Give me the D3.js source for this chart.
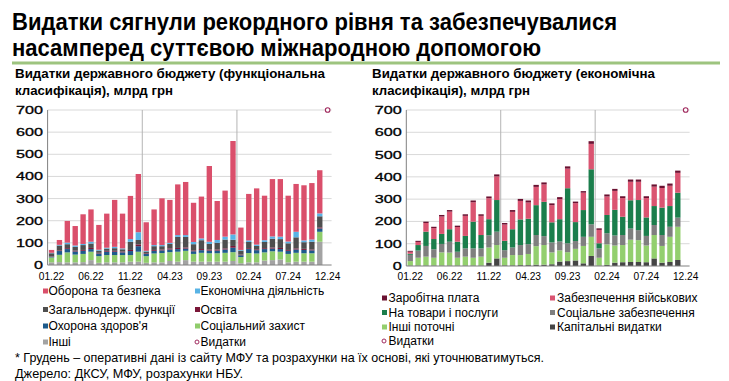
<!DOCTYPE html>
<html><head><meta charset="utf-8">
<script src="https://cdn.jsdelivr.net/npm/d3@7"></script>
<style>
body{margin:0;background:#fff;}
svg{display:block;font-family:"Liberation Sans",Arial,sans-serif;}
</style>
</head><body>
<svg id="c" width="729" height="381"></svg>
<script>
// ---------- DATA ----------
const months = ["01.22","02.22","03.22","04.22","05.22","06.22","07.22","08.22","09.22","10.22","11.22","12.22",
                "01.23","02.23","03.23","04.23","05.23","06.23","07.23","08.23","09.23","10.23","11.23","12.23",
                "01.24","02.24","03.24","04.24","05.24","06.24","07.24","08.24","09.24","10.24","11.24","12.24"];
const tickLabels = ["01.22","06.22","11.22","04.23","09.23","02.24","07.24","12.24"];
const yTicks = [0,100,200,300,400,500,600,700];
const yearStarts = ["01.23","01.24"];

// functional classification (bottom to top), bn UAH
const funcOther    = [12,13,12,12,13,22,10,12,12,12,15,15, 10,12,12,18,15,22,15,15,15,15,15,18, 8,12,12,20,22,25,12,15,15,15,105];
const funcSocial   = [22,33,45,35,37,38,30,33,33,33,30,45, 30,40,42,40,45,42,35,40,38,38,40,40, 28,42,40,37,40,35,38,40,38,38,45];
const funcHealth   = [3,17,15,14,14,12,12,15,15,12,18,25, 10,12,12,12,12,10,12,12,12,12,15,20, 8,18,15,15,12,12,14,15,15,13,15];
const funcEduc     = [2,3,4,4,4,5,3,4,4,4,5,8, 3,4,4,5,5,5,4,5,5,5,5,8, 3,4,4,4,5,5,4,5,5,4,5];
const funcGeneral  = [14,22,18,17,22,20,10,10,12,10,37,20, 8,17,15,20,50,48,28,40,25,30,40,28, 18,28,15,28,40,40,30,50,30,35,50];
const funcEconomic = [2,3,7,6,5,8,4,4,6,4,12,35, 3,5,5,5,8,8,10,8,10,13,13,24, 3,7,6,8,10,11,8,25,8,10,13];
const funcDefence  = [13,22,98,88,134,146,112,154,212,157,195,263, 129,161,211,194,229,240,177,189,342,176,208,422, 101,210,254,201,259,260,207,216,249,255,195];

// economic classification (bottom to top), bn UAH
const ecoCapital   = [2,2,2,2,2,2,2,2,2,2,15,34, 3,3,4,4,6,6,8,20,22,25,12,45, 2,5,15,17,18,18,17,34,15,18,27];
const ecoOtherCur  = [20,35,40,35,59,58,35,40,35,40,68,60, 34,46,45,50,83,88,53,50,40,52,78,86, 35,92,77,77,100,98,75,105,75,113,149];
const ecoSocial    = [28,32,48,38,38,49,27,37,42,37,55,60, 34,34,45,44,50,40,45,40,40,35,41,56, 42,50,45,45,50,45,43,45,49,45,41];
const ecoGoods     = [5,25,64,46,45,56,45,56,120,60,72,142, 42,82,115,114,134,154,90,100,247,85,120,247, 23,82,115,82,127,135,83,85,123,93,112];
const ecoMilitary  = [9,14,39,49,78,79,66,90,87,86,94,106, 73,78,83,73,82,78,77,90,88,85,78,114, 60,83,85,84,83,82,87,87,88,91,89];
const ecoWages     = [4,5,6,6,7,7,6,7,8,7,8,9, 7,8,9,9,9,9,8,9,10,7,7,12, 7,9,9,8,10,10,8,10,10,10,10];

// "Видатки" marker series (only last category)
const expMarkerMonth = ["12.24"];
const expMarkerValue = [700];

// ---------- STYLE ----------
const C = {
  defence:"#DA4F6B", economic:"#58B3E5", general:"#4F4F4F", educ:"#7A1638",
  health:"#1D5A8B", social:"#8FCC6B", other:"#A3A3A3",
  wages:"#6B1131", military:"#DA5471", goods:"#1B7E4C", ecoSocial:"#7F7F7F",
  otherCur:"#93CF6E", capital:"#454545", marker:"#A02A5E"
};

const svg = d3.select("#c");
function fit(sel, w){ return sel.attr("textLength", w).attr("lengthAdjust","spacingAndGlyphs"); }

// ---------- TITLE ----------
fit(svg.append("text").attr("x",12).attr("y",30).attr("font-size",23).attr("font-weight","bold").attr("fill","#000")
  .text("Видатки сягнули рекордного рівня та забезпечувалися"), 605);
fit(svg.append("text").attr("x",12).attr("y",56).attr("font-size",23).attr("font-weight","bold").attr("fill","#000")
  .text("насамперед суттєвою міжнародною допомогою"), 529);
svg.append("rect").attr("x",12).attr("y",61.5).attr("width",708).attr("height",3).attr("fill","#9DC47F");

// ---------- PANEL ----------
function panel(opt){
  const g = svg.append("g");
  const x = d3.scaleBand().domain(months).range([opt.x0, opt.x1]).paddingInner(0.32).paddingOuter(0.16);
  const y = d3.scaleLinear().domain([0,700]).range([opt.y0, opt.y1]);

  // subtitle
  fit(g.append("text").attr("x",opt.tx).attr("y",78).attr("font-size",13).attr("font-weight","bold").text(opt.sub1), opt.sub1w);
  fit(g.append("text").attr("x",opt.tx).attr("y",94.5).attr("font-size",13).attr("font-weight","bold").text(opt.sub2), 158);

  // gridlines
  g.append("g").selectAll("line").data(yTicks.filter(d=>d>0)).join("line")
    .attr("x1",opt.x0).attr("x2",opt.x1).attr("y1",d=>y(d)).attr("y2",d=>y(d))
    .attr("stroke","#D9D9D9").attr("stroke-width",1);
  // year separators
  g.append("g").selectAll("line").data(yearStarts).join("line")
    .attr("x1",d=>x(d)-x.step()*x.paddingInner()/2).attr("x2",d=>x(d)-x.step()*x.paddingInner()/2)
    .attr("y1",y(0)).attr("y2",y(700)).attr("stroke","#B4B4B4").attr("stroke-width",1);

  // stacked bars
  const data = months.slice(0, opt.series[0].values.length).map((m,i)=>{
    const o = {month:m}; opt.series.forEach(s=>o[s.key]=s.values[i]); return o;});
  const stack = d3.stack().keys(opt.series.map(s=>s.key))(data);
  g.append("g").selectAll("g").data(stack).join("g")
    .attr("fill",(d,i)=>opt.series[i].color)
    .selectAll("rect").data(d=>d).join("rect")
    .attr("x",d=>x(d.data.month)).attr("width",x.bandwidth())
    .attr("y",d=>y(d[1])).attr("height",d=>Math.max(0,y(d[0])-y(d[1])));

  // marker
  g.append("g").selectAll("circle").data(expMarkerMonth.map((m,i)=>({m,v:expMarkerValue[i]}))).join("circle")
    .attr("cx",d=>x(d.m)+x.bandwidth()/2).attr("cy",d=>y(d.v)).attr("r",2.3)
    .attr("fill","#fff").attr("stroke",C.marker).attr("stroke-width",1.1);

  // axes lines
  g.append("line").attr("x1",opt.x0).attr("x2",opt.x0).attr("y1",y(0)).attr("y2",y(700)).attr("stroke","#808080");
  g.append("line").attr("x1",opt.x0).attr("x2",opt.x1).attr("y1",y(0)).attr("y2",y(0)).attr("stroke","#808080");

  // y labels
  g.append("g").selectAll("text").data(yTicks).join("text")
    .attr("x",opt.x0-4.5).attr("y",d=>y(d)+4).attr("text-anchor","end").attr("font-size",11).attr("fill","#000")
    .attr("stroke","#000").attr("stroke-width",0.3)
    .attr("textLength",d=>String(d).length*9).attr("lengthAdjust","spacingAndGlyphs")
    .text(d=>d);

  // x labels
  g.append("g").selectAll("text").data(tickLabels).join("text")
    .attr("x",d=>x(d)+x.bandwidth()/2).attr("y",280).attr("text-anchor","middle").attr("font-size",10.2).attr("fill","#000")
    .text(d=>d);

  // legend
  const lg = g.append("g").attr("font-size",12).attr("fill","#000");
  opt.legend.forEach(it=>{
    if(it.circle){
      lg.append("circle").attr("cx",it.mx+2).attr("cy",it.y).attr("r",2).attr("fill","#fff").attr("stroke",C.marker).attr("stroke-width",1);
    } else {
      lg.append("rect").attr("x",it.mx).attr("y",it.y-2.5).attr("width",5).attr("height",5).attr("fill",it.color);
    }
    lg.append("text").attr("x",it.tx).attr("y",it.y+4.2).text(it.label);
  });
}

panel({
  x0:47.6, x1:331.6, y0:265, y1:110, tx:15,
  sub1:"Видатки державного бюджету (функціональна", sub1w:310,
  sub2:"класифікація), млрд грн",
  series:[
    {key:"other", values:funcOther, color:C.other},
    {key:"social", values:funcSocial, color:C.social},
    {key:"health", values:funcHealth, color:C.health},
    {key:"educ", values:funcEduc, color:C.educ},
    {key:"general", values:funcGeneral, color:C.general},
    {key:"economic", values:funcEconomic, color:C.economic},
    {key:"defence", values:funcDefence, color:C.defence}
  ],
  legend:[
    {label:"Оборона та безпека", color:C.defence, mx:43, tx:48.5, y:291},
    {label:"Економічна діяльність", color:C.economic, mx:195, tx:200.5, y:291},
    {label:"Загальнодерж. функції", color:C.general, mx:43, tx:48.5, y:309.5},
    {label:"Освіта", color:C.educ, mx:195, tx:200.5, y:309.5},
    {label:"Охорона здоров'я", color:C.health, mx:43, tx:48.5, y:326},
    {label:"Соціальний захист", color:C.social, mx:195, tx:200.5, y:326},
    {label:"Інші", color:C.other, mx:43, tx:48.5, y:342},
    {label:"Видатки", circle:true, mx:195, tx:200.5, y:342}
  ]
});

panel({
  x0:406.3, x1:689.6, y0:266, y1:110, tx:372,
  sub1:"Видатки державного бюджету (економічна", sub1w:283,
  sub2:"класифікація), млрд грн",
  series:[
    {key:"capital", values:ecoCapital, color:C.capital},
    {key:"otherCur", values:ecoOtherCur, color:C.otherCur},
    {key:"ecoSocial", values:ecoSocial, color:C.ecoSocial},
    {key:"goods", values:ecoGoods, color:C.goods},
    {key:"military", values:ecoMilitary, color:C.military},
    {key:"wages", values:ecoWages, color:C.wages}
  ],
  legend:[
    {label:"Заробітна плата", color:C.wages, mx:382, tx:388.5, y:298},
    {label:"Забезпечення військових", color:C.military, mx:550, tx:557, y:298},
    {label:"На товари і послуги", color:C.goods, mx:382, tx:388.5, y:312.5},
    {label:"Соціальне забезпечення", color:C.ecoSocial, mx:550, tx:557, y:312.5},
    {label:"Інші поточні", color:C.otherCur, mx:382, tx:388.5, y:327},
    {label:"Капітальні видатки", color:C.capital, mx:550, tx:557, y:327},
    {label:"Видатки", circle:true, mx:382, tx:388.5, y:341}
  ]
});

// ---------- NOTES ----------
fit(svg.append("text").attr("x",15).attr("y",362).attr("font-size",12.2).attr("fill","#000")
  .text("* Грудень – оперативні дані із сайту МФУ та розрахунки на їх основі, які уточнюватимуться."), 529);
fit(svg.append("text").attr("x",15).attr("y",377.5).attr("font-size",12.2).attr("fill","#000")
  .text("Джерело: ДКСУ, МФУ, розрахунки НБУ."), 228);
</script>
</body></html>
